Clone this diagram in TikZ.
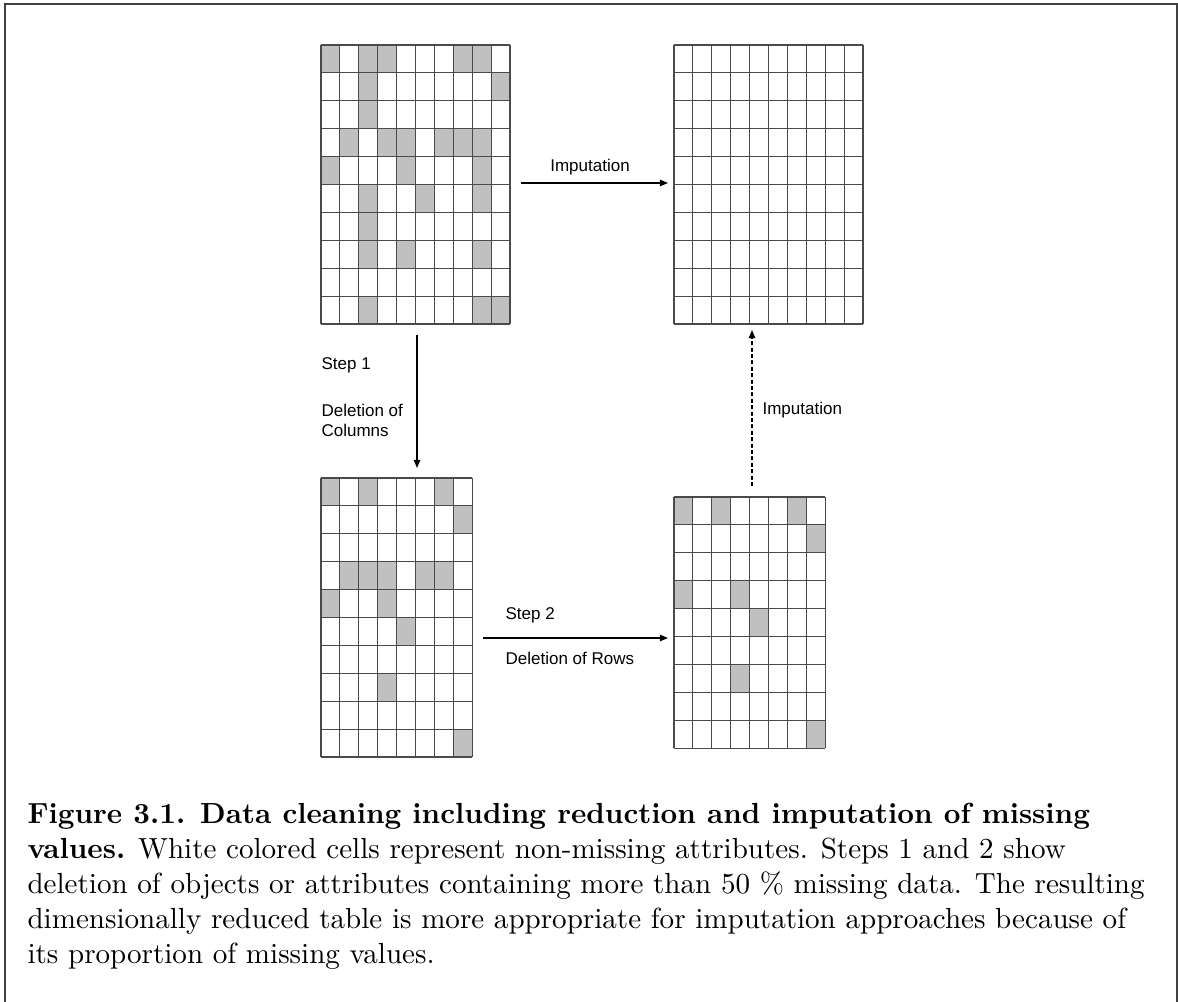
\documentclass[tikz,border=0pt]{standalone}
\usepackage{fontspec}
\usepackage{tikz}
\usetikzlibrary{arrows.meta}
\newfontfamily\labelfont{Liberation Sans}
\definecolor{cellgray}{HTML}{C0C0C0}
\definecolor{gridgray}{HTML}{4A4A4A}
\newcommand{\cellw}{18.9}
\newcommand{\cellh}{27.9}
\tikzset{
    missingcell/.style={
        fill=cellgray
    },
    cellline/.style={
        draw=gridgray,
        line width=0.4pt
    },
    flowarrow/.style={
        -{Triangle[length=2.8pt,width=2.2pt]},
        line width=0.5pt
    },
    steplabel/.style={
        font=\labelfont\fontsize{5.85}{6.9}\selectfont,
        inner sep=0pt,
        align=left
    },
    figcaption/.style={
        font=\fontsize{10}{12}\selectfont,
        inner sep=0pt,
        align=left
    }
}
% grey cells of a table: x, y, list of row/column
\newcommand{\missingcells}[3]{%
    \foreach \r/\c in {#3}
        \fill[missingcell] ({#1+\c*\cellw},{#2+\r*\cellh}) rectangle ++(\cellw,\cellh);
}
% lines of a table: name, x, y, columns, rows
\newcommand{\tablelines}[5]{%
    \coordinate (#1) at (#2,#3);
    \foreach \i in {0,...,#4}
        \draw[cellline] ({#2+\i*\cellw},#3) -- ++(0,{#5*\cellh});
    \foreach \j in {0,...,#5}
        \draw[cellline] (#2,{#3+\j*\cellh}) -- ++({#4*\cellw},0);
}

\begin{document}
\begin{tikzpicture}[x=0.344pt, y=-0.344pt]
\useasboundingbox (0,0) rectangle (1178,1002);
\draw[gray!50!black, line width=0.6pt] (5,1002) -- (5,4) -- (1177,4) -- (1177,1002);

% raw table
\missingcells{321}{45}{0/0,0/2,0/3,0/7,0/8,1/2,1/9,2/2,3/1,3/3,3/4,3/6,3/7,3/8,
    4/0,4/4,4/8,5/2,5/5,5/8,6/2,7/2,7/4,7/8,9/2,9/8,9/9}
\tablelines{raw}{321}{45}{10}{10}

% imputed table
\tablelines{imputed}{674}{45}{10}{10}

% after step 1
\missingcells{321}{478}{0/0,0/2,0/6,1/7,3/1,3/2,3/3,3/5,3/6,4/0,4/3,5/4,7/3,9/7}
\tablelines{colsdel}{321}{478}{8}{10}

% after step 2
\missingcells{674}{497}{0/0,0/2,0/6,1/7,3/0,3/3,4/4,6/3,8/7}
\tablelines{rowsdel}{674}{497}{8}{9}

% arrows
\coordinate (imp-s) at (521,183);
\coordinate (imp-e) at (668,183);
\coordinate (step1-s) at (417,335);
\coordinate (step1-e) at (417,468);
\coordinate (step2-s) at (483,638);
\coordinate (step2-e) at (668,638);
\coordinate (imp2-s) at (752,486);
\coordinate (imp2-e) at (752,330);

\draw[flowarrow] (imp-s) -- (imp-e);
\draw[flowarrow] (step1-s) -- (step1-e);
\draw[flowarrow] (step2-s) -- (step2-e);
\draw[flowarrow, dash pattern=on 1.4pt off 0.8pt] (imp2-s) -- (imp2-e);

\node[steplabel] (imp-lbl) at (590,167) {Imputation};
\node[steplabel, anchor=west] (step1-lbl) at (321,365) {Step 1};
\node[steplabel, anchor=west] (cols-lbl) at (321,420) {Deletion of\\Columns};
\node[steplabel, anchor=west] (step2-lbl) at (505,615) {Step 2};
\node[steplabel, anchor=west] (rows-lbl) at (505,658) {Deletion of Rows};
\node[steplabel, anchor=west] (imp2-lbl) at (762,410) {Imputation};

\node[figcaption, anchor=base west] (caption) at (27,963)
    {\textbf{Figure 3.1. Data cleaning including reduction and imputation of missing}\\
    \textbf{values.} White colored cells represent non-missing attributes. Steps 1 and 2 show\\
    deletion of objects or attributes containing more than 50~\% missing data. The resulting\\
    dimensionally reduced table is more appropriate for imputation approaches because of\\
    its proportion of missing values.};
\end{tikzpicture}
\end{document}
